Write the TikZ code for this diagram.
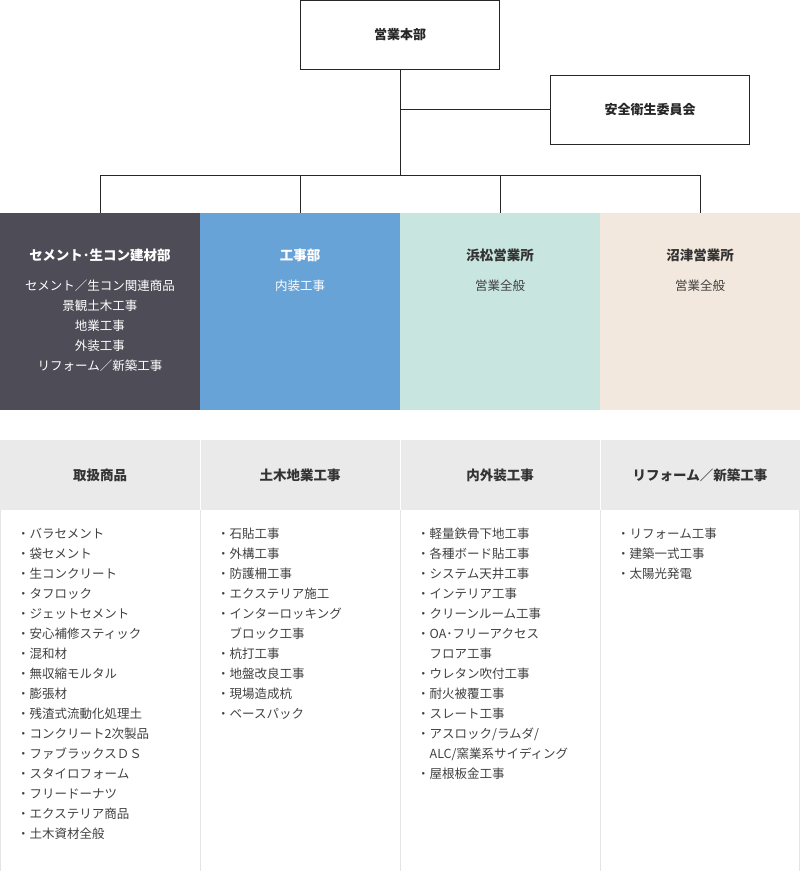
\documentclass[tikz,border=0pt]{standalone}
\usepackage{fontspec}
\setmainfont{Noto Sans CJK JP}
\begin{document}
\begin{tikzpicture}[x=1pt,y=-1pt,
  topbox/.style={draw=black!85,line width=0.8pt,minimum width=199pt,minimum height=69pt,font=\fontsize{13}{16}\selectfont\bfseries,text=black!85},
  line/.style={draw=black!85,line width=0.8pt},
  dept/.style={font=\fontsize{13.5}{16}\selectfont\bfseries,anchor=center},
  items/.style={font=\fontsize{12.5}{20}\selectfont,align=center,anchor=north},
  head/.style={font=\fontsize{13.5}{16}\selectfont\bfseries,text=black!80},
  lst/.style={font=\fontsize{12.5}{20}\selectfont,align=left,anchor=north west,text=black!75,inner sep=0pt}]
\definecolor{cA}{HTML}{4E4C57}
\definecolor{cB}{HTML}{68A3D7}
\definecolor{cC}{HTML}{C8E5DF}
\definecolor{cD}{HTML}{F2E8DE}
\definecolor{hd}{HTML}{EAEAEA}
\definecolor{bd}{HTML}{E4E4E4}
\useasboundingbox (0,0) rectangle (800,871);
\node[topbox] (hq) at (400,34.5) {営業本部};
\node[topbox] (sc) at (650,109.5) {安全衛生委員会};
\coordinate (j1) at (400,109.5);
\coordinate (j2) at (400,175);
\coordinate (l1) at (100,175);\coordinate (l2) at (300,175);\coordinate (l3) at (500,175);\coordinate (l4) at (700,175);
% colored boxes
\fill[cA] (0,213) rectangle (200,410);
\fill[cB] (200,213) rectangle (400,410);
\fill[cC] (400,213) rectangle (600,410);
\fill[cD] (600,213) rectangle (800,410);
\coordinate (d1) at (100,213);\coordinate (d2) at (300,213);\coordinate (d3) at (500,213);\coordinate (d4) at (700,213);
\draw[line] (hq.south) -- (j2);
\draw[line] (j1) -- (sc.west);
\draw[line] (l1) -- (l4);
\draw[line] (l1) -- (d1);\draw[line] (l2) -- (d2);\draw[line] (l3) -- (d3);\draw[line] (l4) -- (d4);
\node[dept,text=white] (n1) at (100,255) {セメント･生コン建材部};
\node[items,text=white] (i1) at (100,276) {セメント／生コン関連商品\\景観土木工事\\地業工事\\外装工事\\リフォーム／新築工事};
\node[dept,text=white] (n2) at (300,255) {工事部};
\node[items,text=white] (i2) at (300,276) {内装工事};
\node[dept,text=black!80] (n3) at (500,255) {浜松営業所};
\node[items,text=black!75] (i3) at (500,276) {営業全般};
\node[dept,text=black!80] (n4) at (700,255) {沼津営業所};
\node[items,text=black!75] (i4) at (700,276) {営業全般};
% table
\fill[hd] (0,440) rectangle (800,510);
\foreach \x in {200,400,600} \draw[white,line width=1pt] (\x,440) -- (\x,510);
\foreach \x in {200,400,600} \draw[bd,line width=1pt] (\x,510) -- (\x,871);
\draw[bd,line width=1pt] (0.5,510) -- (0.5,871);
\draw[bd,line width=1pt] (799.5,510) -- (799.5,871);
\node[head] (h1) at (100,475) {取扱商品};
\node[head] (h2) at (300,475) {土木地業工事};
\node[head] (h3) at (500,475) {内外装工事};
\node[head] (h4) at (700,475) {リフォーム／新築工事};
\node[lst] (b1) at (17,528) {・バラセメント\\・袋セメント\\・生コンクリート\\・タフロック\\・ジェットセメント\\・安心補修スティック\\・混和材\\・無収縮モルタル\\・膨張材\\・残渣式流動化処理土\\・コンクリート2次製品\\・ファブラックスＤＳ\\・スタイロフォーム\\・フリードーナツ\\・エクステリア商品\\・土木資材全般};
\node[lst] (b2) at (217,528) {・石貼工事\\・外構工事\\・防護柵工事\\・エクステリア施工\\・インターロッキング\\\hspace*{1em}ブロック工事\\・杭打工事\\・地盤改良工事\\・現場造成杭\\・ベースパック};
\node[lst] (b3) at (417,528) {・軽量鉄骨下地工事\\・各種ボード貼工事\\・システム天井工事\\・インテリア工事\\・クリーンルーム工事\\・OA･フリーアクセス\\\hspace*{1em}フロア工事\\・ウレタン吹付工事\\・耐火被覆工事\\・スレート工事\\・アスロック/ラムダ/\\\hspace*{1em}ALC/窯業系サイディング\\・屋根板金工事};
\node[lst] (b4) at (617,528) {・リフォーム工事\\・建築一式工事\\・太陽光発電};
\end{tikzpicture}
\end{document}
